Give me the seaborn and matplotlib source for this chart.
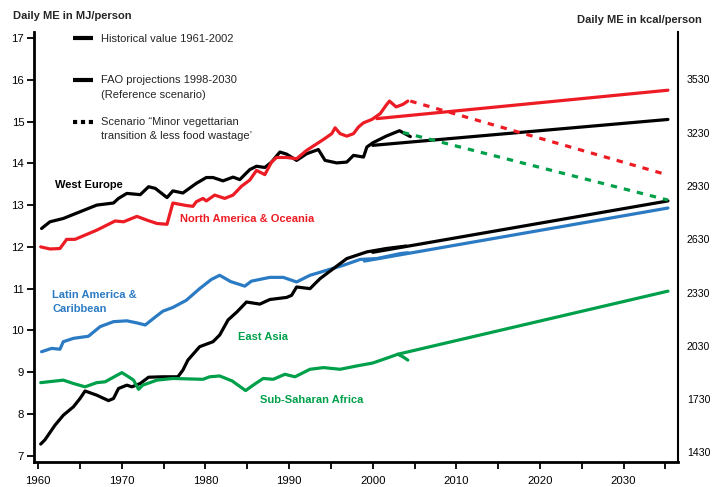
import matplotlib
matplotlib.use("Agg")
import numpy as np
import matplotlib.pyplot as plt
from matplotlib.lines import Line2D
from matplotlib.legend_handler import HandlerLine2D
import seaborn as sns

# --- historical series (MJ/person/day) ---
we_year = [1960.4, 1961.4, 1963.0, 1965.0, 1967.0, 1969.0, 1969.6, 1970.6, 1972.2, 1973.2,
           1974.0, 1975.4, 1976.1, 1977.3, 1978.9, 1980.1, 1980.9, 1982.1, 1983.3, 1984.1,
           1985.3, 1986.1, 1987.1, 1987.9, 1988.9, 1989.7, 1990.9, 1992.1, 1993.5, 1994.3,
           1995.7, 1996.9, 1997.7, 1998.9, 1999.3, 2000.0, 2001.6, 2003.2, 2004.5]
we_mj = [12.44, 12.60, 12.68, 12.84, 13.00, 13.05, 13.16, 13.28, 13.25, 13.44,
         13.40, 13.18, 13.34, 13.29, 13.52, 13.66, 13.66, 13.58, 13.67, 13.61,
         13.85, 13.93, 13.90, 14.03, 14.27, 14.22, 14.07, 14.23, 14.33, 14.07,
         14.01, 14.03, 14.19, 14.15, 14.39, 14.49, 14.65, 14.78, 14.64]

na_year = [1960.3, 1961.4, 1962.6, 1963.4, 1964.4, 1967.0, 1969.2, 1970.2, 1971.8, 1973.0,
           1974.2, 1975.4, 1976.1, 1977.7, 1978.5, 1978.9, 1979.7, 1980.1, 1981.1, 1982.3,
           1983.3, 1984.3, 1985.3, 1986.1, 1987.1, 1987.9, 1988.5, 1989.7, 1990.9, 1992.1,
           1994.1, 1995.1, 1995.5, 1996.1, 1996.9, 1997.7, 1998.3, 1998.9, 1999.9, 2000.9,
           2001.6, 2002.0, 2002.8, 2003.6, 2004.2]
na_mj = [12.00, 11.95, 11.96, 12.18, 12.18, 12.40, 12.62, 12.60, 12.73, 12.64,
         12.56, 12.54, 13.05, 12.99, 12.97, 13.08, 13.16, 13.10, 13.24, 13.16,
         13.24, 13.45, 13.60, 13.83, 13.73, 14.03, 14.14, 14.14, 14.11, 14.31,
         14.57, 14.71, 14.85, 14.71, 14.65, 14.71, 14.87, 14.97, 15.05, 15.19,
         15.39, 15.49, 15.35, 15.41, 15.49]

la_year = [1960.4, 1961.6, 1962.6, 1963.0, 1964.2, 1966.0, 1967.4, 1969.0, 1970.6, 1971.8,
           1972.8, 1973.8, 1974.9, 1976.1, 1977.7, 1979.3, 1980.7, 1981.7, 1983.0, 1984.7,
           1985.5, 1987.7, 1989.3, 1990.9, 1992.5, 1994.5, 1996.5, 1998.5, 2000.5, 2003.3,
           2004.2]
la_mj = [9.49, 9.57, 9.55, 9.73, 9.81, 9.86, 10.09, 10.21, 10.23, 10.18,
         10.13, 10.29, 10.46, 10.55, 10.72, 11.00, 11.22, 11.32, 11.17, 11.06,
         11.18, 11.27, 11.27, 11.16, 11.32, 11.44, 11.56, 11.70, 11.72, 11.84,
         11.86]

ea_year = [1960.3, 1960.8, 1962.0, 1963.0, 1964.2, 1965.0, 1965.6, 1967.0, 1968.4, 1969.0,
           1969.6, 1970.6, 1971.2, 1972.2, 1973.2, 1974.9, 1976.7, 1977.3, 1977.9, 1979.3,
           1980.9, 1981.7, 1982.7, 1983.8, 1984.9, 1986.5, 1987.7, 1989.7, 1990.3, 1990.9,
           1992.5, 1993.7, 1995.3, 1996.9, 1999.3, 2001.6, 2004.0]
ea_mj = [7.28, 7.38, 7.73, 7.97, 8.17, 8.37, 8.55, 8.45, 8.32, 8.37,
         8.61, 8.69, 8.65, 8.73, 8.88, 8.89, 8.89, 9.05, 9.29, 9.61,
         9.73, 9.89, 10.25, 10.45, 10.68, 10.63, 10.74, 10.79, 10.84, 11.04,
         11.00, 11.24, 11.48, 11.72, 11.88, 11.96, 12.02]

ssa_year = [1960.3, 1963.0, 1964.2, 1965.6, 1967.0, 1968.0, 1970.0, 1970.8, 1971.4, 1972.0,
            1972.5, 1974.2, 1976.1, 1979.7, 1980.5, 1981.7, 1983.2, 1984.8, 1985.7, 1986.9,
            1988.1, 1989.5, 1990.7, 1992.5, 1994.1, 1996.1, 1998.1, 2000.0, 2001.6, 2003.0,
            2003.6, 2004.2]
ssa_mj = [8.75, 8.81, 8.73, 8.65, 8.75, 8.77, 8.99, 8.89, 8.81, 8.59,
          8.69, 8.81, 8.85, 8.83, 8.89, 8.91, 8.79, 8.56, 8.69, 8.85,
          8.83, 8.95, 8.89, 9.07, 9.11, 9.07, 9.15, 9.22, 9.33, 9.43,
          9.37, 9.29]

# --- FAO projections (start, end) ---
we_proj_year, we_proj_mj = [2000.0, 2035.3], [14.43, 15.05]
na_proj_year, na_proj_mj = [2000.5, 2035.3], [15.07, 15.75]
la_proj_year, la_proj_mj = [1999.0, 2035.3], [11.66, 12.93]
ea_proj_year, ea_proj_mj = [2000.0, 2035.3], [11.87, 13.10]
ssa_proj_year, ssa_proj_mj = [2003.0, 2035.3], [9.43, 10.94]

# --- scenario "minor vegetarian transition" ---
na_scen_year, na_scen_mj = [2004.5, 2035.3], [15.49, 13.72]
we_scen_year, we_scen_mj = [2003.6, 2035.3], [14.74, 13.12]

mj_ticks = [7, 8, 9, 10, 11, 12, 13, 14, 15, 16, 17]
kcal_ticks = [1430, 1730, 2030, 2330, 2630, 2930, 3230, 3530]
year_ticks = list(range(1960, 2040, 5))
year_labels = [str(y) if y % 10 == 0 else "" for y in year_ticks]

RED = "#ED1C24"
BLUE = "#2B7BC4"
GREEN = "#00A04B"
BLACK = "#000000"


class FirstLineHandler(HandlerLine2D):
    """Puts the legend line next to the first line of a two-line label."""
    def __init__(self, shift, **kw):
        super().__init__(**kw)
        self.shift = shift

    def create_artists(self, legend, orig_handle, xdescent, ydescent, width, height,
                       fontsize, trans):
        arts = super().create_artists(legend, orig_handle, xdescent, ydescent, width,
                                      height, fontsize, trans)
        for a in arts:
            a.set_ydata(np.asarray(a.get_ydata()) + self.shift)
        return arts


sns.set_style("ticks")
plt.rcParams["font.family"] = ["Liberation Sans", "DejaVu Sans"]

fig = plt.figure(figsize=(7.12, 4.87), dpi=100)
ax = fig.add_axes([0.0478, 0.0513, 0.9044, 0.8827])

LW = 2.3
hist = [(we_year, we_mj, BLACK), (na_year, na_mj, RED), (la_year, la_mj, BLUE),
        (ea_year, ea_mj, BLACK), (ssa_year, ssa_mj, GREEN)]
for xs, ys, c in hist:
    sns.lineplot(x=xs, y=ys, ax=ax, color=c, lw=LW, sort=False, estimator=None)

proj = [(we_proj_year, we_proj_mj, BLACK), (na_proj_year, na_proj_mj, RED),
        (la_proj_year, la_proj_mj, BLUE), (ea_proj_year, ea_proj_mj, BLACK),
        (ssa_proj_year, ssa_proj_mj, GREEN)]
for xs, ys, c in proj:
    sns.lineplot(x=xs, y=ys, ax=ax, color=c, lw=LW, estimator=None)

for xs, ys, c in [(na_scen_year, na_scen_mj, RED), (we_scen_year, we_scen_mj, GREEN)]:
    sns.lineplot(x=xs, y=ys, ax=ax, color=c, lw=LW, linestyle=(0, (2, 2.2)), estimator=None)

ax.set_xlim(1959.5, 2036.5)
ax.set_ylim(6.85, 17.14)
ax.set_xticks(year_ticks)
ax.set_xticklabels(year_labels)
ax.set_yticks(mj_ticks)
ax.set_xlabel("")
ax.set_ylabel("")
ax.tick_params(axis="both", direction="out", length=5, width=1.3, labelsize=8.2,
               colors="black")
ax.tick_params(axis="x", pad=5)
ax.tick_params(axis="y", pad=2)
sns.despine(ax=ax, top=True, right=False)
for side in ["left", "bottom"]:
    ax.spines[side].set_linewidth(2.0)
ax.spines["right"].set_linewidth(1.5)
for side in ["left", "bottom", "right"]:
    ax.spines[side].set_color("black")


# right axis in kcal, same scale as the reference
def to_kcal(mj):
    return 1430 + (mj - 7.08) * 235.2


ax2 = ax.twinx()
ax2.set_ylim(to_kcal(6.85), to_kcal(17.14))
ax2.set_yticks(kcal_ticks)
ax2.tick_params(axis="y", length=0, labelsize=7.6, pad=6.5, colors="black")
for side in ["left", "bottom", "top", "right"]:
    ax2.spines[side].set_visible(False)
ax2.grid(False)

# region labels
lab = dict(fontsize=8, fontweight="bold", va="center", ha="left")
ax.text(1962.0, 13.48, "West Europe", color=BLACK, **lab)
ax.text(1976.9, 12.66, "North America & Oceania", color=RED, **lab)
ax.text(1961.7, 10.67, "Latin America &\nCaribbean", color=BLUE, linespacing=1.5, **lab)
ax.text(1983.9, 9.85, "East Asia", color=GREEN, **lab)
ax.text(1986.5, 8.33, "Sub-Saharan Africa", color=GREEN, **lab)

# axis titles
fig.text(0.018, 0.967, "Daily ME in MJ/person", fontsize=8, fontweight="bold", va="center")
fig.text(0.986, 0.958, "Daily ME in kcal/person", fontsize=8, fontweight="bold",
         va="center", ha="right")

# legend: every entry is two lines tall, line drawn beside the first line
handles = [Line2D([], [], color=BLACK, lw=3, solid_capstyle="butt"),
           Line2D([], [], color=BLACK, lw=3, solid_capstyle="butt"),
           Line2D([], [], color=BLACK, lw=3, linestyle=(0, (1, 0.9)), dash_capstyle="butt")]
labels = ["Historical value 1961-2002\n",
          "FAO projections 1998-2030\n(Reference scenario)",
          "Scenario \u201cMinor vegettarian\ntransition & less food wastage\u2019"]
fs = 8
spacing = 1.55
handler = FirstLineHandler(shift=0.5 * spacing * 0.87 * fs)
leg = ax.legend(handles, labels, loc="upper left", bbox_to_anchor=(0.045, 1.02),
                frameon=False, fontsize=fs, handlelength=1.8, handletextpad=0.75,
                labelspacing=1.55, handler_map={h: handler for h in handles})
for t in leg.get_texts():
    t.set_linespacing(spacing)

fig.savefig("out.png", dpi=100)
